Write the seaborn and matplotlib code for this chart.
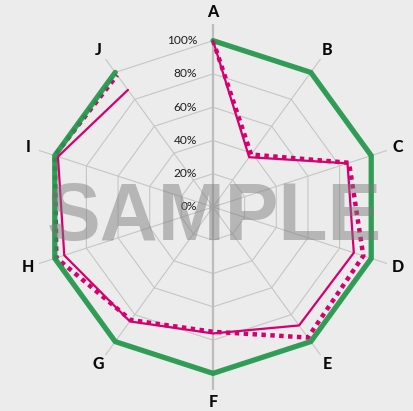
import numpy as np
import pandas as pd
import matplotlib
matplotlib.use("Agg")
import matplotlib.pyplot as plt
import seaborn as sns

categories = ["A", "B", "C", "D", "E", "F", "G", "H", "I", "J"]
target = [100, 100, 100, 100, 100, 100, 100, 100, 100, 100]
series_solid = [100, 37, 85, 89, 88, 76, 85, 94, 98, 87]
series_dotted = [100, 39, 86, 95, 97, 75, 84, 99, 100, 98]
tick_values = [0, 20, 40, 60, 80, 100]
tick_labels = ["0%", "20%", "40%", "60%", "80%", "100%"]

sns.set_theme(style="white")
plt.rcParams["font.family"] = ["Lato", "DejaVu Sans"]

BG = "#ececec"
fig = plt.figure(figsize=(4.14, 4.11), dpi=100, facecolor=BG)
ax = fig.add_axes([30 / 414, 21 / 411, 366 / 414, 366 / 411], projection="polar")
ax.set_facecolor(BG)
ax.set_theta_zero_location("N")
ax.set_theta_direction(-1)
ax.set_ylim(0, 110)
ax.spines["polar"].set_visible(False)
ax.grid(False)
ax.set_xticks([])
ax.set_yticks([])

n = len(categories)
angles = np.linspace(0, 2 * np.pi, n, endpoint=False)

# grid rings
for r in tick_values[1:]:
    ax.plot(np.append(angles, angles[0]), [r] * (n + 1), color="#c6c6c6", lw=0.8, zorder=1)
# spokes
for i, th in enumerate(angles):
    thick = i in (0, 5)
    ax.plot([th, th], [0, 110], color="#bdbdbd" if thick else "#c6c6c6",
            lw=1.6 if thick else 0.8, zorder=1)

def closed(vals):
    return pd.DataFrame({"theta": np.append(angles, angles[0]),
                         "value": list(vals) + [vals[0]]})

sns.lineplot(data=closed(series_dotted), x="theta", y="value", sort=False, ax=ax,
             color="#d4006f", lw=3.2, linestyle=(0, (1, 1)), zorder=2,
             dash_capstyle="butt")
sns.lineplot(data=closed(target), x="theta", y="value", sort=False, ax=ax,
             color="#21974a", lw=3.8, alpha=0.92, zorder=3)
sns.lineplot(data=closed(series_solid), x="theta", y="value", sort=False, ax=ax,
             color="#d4006f", lw=1.6, zorder=4)
ax.set_xlabel("")
ax.set_ylabel("")
ax.set_ylim(0, 110)

# category labels
for th, lab in zip(angles, categories):
    ax.text(th, 117, lab, ha="center", va="center", fontsize=11.5,
            fontweight="black", color="#0a0a0a")

# radial tick labels
for v, t in zip(tick_values, tick_labels):
    ax.annotate(t, xy=(0, v), xytext=(-11.5, 0), textcoords="offset points",
                ha="right", va="center", fontsize=8.6, color="#1e1e1e", zorder=5)

fig.text(214 / 414, 171 / 411, "SAMPLE", ha="center", va="baseline",
         fontsize=58, fontweight="bold", family="Liberation Sans",
         color="#7a7a7a", alpha=0.47, zorder=10)

fig.savefig("out.png", dpi=100, facecolor=BG)
